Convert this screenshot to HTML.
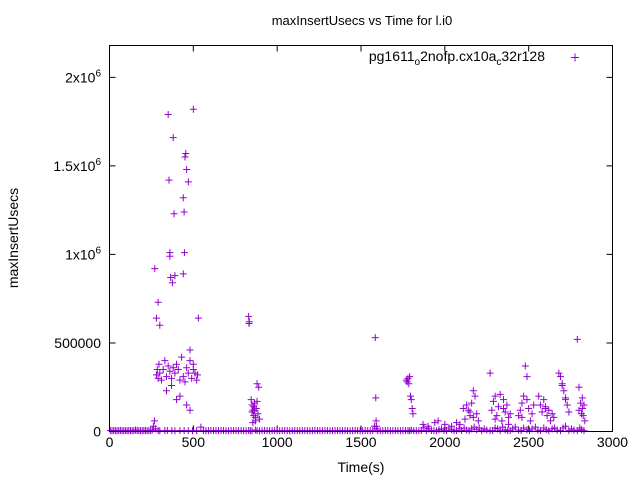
<!DOCTYPE html>
<html><head><meta charset="utf-8"><style>
html,body{margin:0;padding:0;background:#fff;}
svg{display:block;font-family:"Liberation Sans",sans-serif;}
</style></head><body>
<svg id="chart" width="640" height="480" viewBox="0 0 640 480" xmlns="http://www.w3.org/2000/svg">
<rect x="0" y="0" width="640" height="480" fill="#fff"/>
<text x="362" y="25" font-size="13" text-anchor="middle">maxInsertUsecs vs Time for l.i0</text>
<text x="361" y="472" font-size="14" text-anchor="middle">Time(s)</text>
<text transform="translate(18,238) rotate(-90)" font-size="14" text-anchor="middle">maxInsertUsecs</text>
<g id="ticks"></g>
<g id="marks"></g>
<rect x="109.5" y="45.5" width="503" height="386" fill="none" stroke="#000" stroke-width="1"/>
<g>
<text x="545" y="61" font-size="14" text-anchor="end">pg1611<tspan font-size="10" dy="4">o</tspan><tspan dy="-4">2nofp.cx10a</tspan><tspan font-size="10" dy="4">c</tspan><tspan dy="-4">32r128</tspan></text>
<path d="M571,57.5h8M575,53.5v8" stroke="#9400d3" stroke-width="1"/>
</g>
</svg>
<script>
const xTicks = [0, 500, 1000, 1500, 2000, 2500, 3000];
const yTicks = [0, 500000, 1000000, 1500000, 2000000];
const yTickLabels = ["0", "500000", "1x10^6", "1.5x10^6", "2x10^6"];
const baseTimes = [5,15,25,35,45,55,65,75,85,95,105,115,125,135,145,155,165,175,185,195,205,215,225,235,245,255,262,268,275,290,300,330,345,372,390,420,445,470,495,520,545,560,575,590,605,620,635,650,665,680,695,710,725,740,755,770,785,800,815,830,840,850,870,880,895,910,925,940,955,970,985,1000,1015,1030,1045,1060,1075,1090,1105,1120,1135,1150,1165,1180,1195,1210,1225,1240,1255,1270,1285,1300,1315,1330,1345,1360,1375,1390,1405,1420,1435,1450,1465,1480,1495,1510,1525,1540,1555,1570,1580,1590,1600,1615,1630,1645,1660,1675,1690,1705,1720,1735,1750,1765,1780,1790,1800,1815,1830,1845,1860,1875,1890,1905,1920,1935,1950,1965,1980,1995,2010,2025,2040,2055,2070,2085,2100,2115,2130,2145,2160,2175,2190,2205,2220,2235,2250,2270,2285,2300,2315,2330,2345,2360,2375,2390,2405,2420,2440,2455,2470,2490,2505,2520,2540,2555,2570,2590,2605,2620,2640,2655,2670,2690,2705,2720,2740,2755,2770,2790,2805,2815,2830];
const baseValues = [5000,4000,6000,5000,4000,5000,6000,4000,5000,5000,4000,6000,5000,4000,5000,8000,6000,5000,4000,5000,6000,5000,4000,5000,6000,8000,30000,60000,15000,5000,4000,5000,6000,5000,4000,5000,6000,5000,4000,5000,25000,5000,4000,5000,6000,5000,4000,5000,6000,5000,4000,5000,6000,5000,4000,5000,6000,5000,4000,6000,5000,4000,8000,5000,4000,5000,6000,5000,4000,5000,6000,5000,4000,5000,6000,5000,4000,5000,6000,5000,4000,5000,6000,5000,4000,5000,6000,5000,4000,5000,6000,5000,4000,5000,6000,5000,4000,5000,6000,5000,4000,5000,6000,5000,4000,5000,6000,5000,4000,5000,30000,15000,5000,4000,5000,6000,5000,4000,5000,6000,5000,4000,5000,6000,5000,4000,8000,5000,4000,5000,6000,20000,5000,15000,6000,5000,4000,10000,15000,5000,6000,20000,10000,5000,6000,15000,5000,20000,8000,5000,15000,25000,10000,20000,5000,15000,8000,5000,6000,20000,15000,5000,25000,10000,5000,6000,15000,25000,8000,5000,20000,10000,5000,15000,25000,8000,5000,20000,10000,5000,15000,20000,8000,5000,20000,30000,5000,15000,8000,5000,20000,10000,5000];
const c1Times = [270,280,290,300,350,355,360,365,380,385,390,440,445,450,455,460,470,480,500,530,447,375,360,440];
const c1Values = [920000,640000,730000,600000,1790000,1420000,1010000,870000,1660000,1230000,880000,1320000,1240000,1550000,1570000,1480000,1410000,460000,1820000,640000,1010000,840000,990000,890000];
const c1bTimes = [280,285,290,295,300,310,320,330,340,350,360,370,380,390,400,410,420,430,440,450,460,470,480,490,500,510,520,525,400,460,340,420,480,370,500];
const c1bValues = [320000,350000,300000,380000,330000,290000,350000,400000,310000,370000,340000,300000,360000,330000,380000,350000,290000,420000,310000,280000,360000,330000,400000,300000,350000,330000,290000,320000,180000,150000,230000,200000,120000,260000,380000];
const c2Times = [830,832,834,845,850,855,860,865,870,875,880,885,890,895,850,860,870,880,855,865];
const c2Values = [650000,610000,620000,180000,150000,120000,90000,160000,60000,130000,270000,100000,250000,70000,110000,140000,80000,170000,50000,120000];
const c3Times = [1585,1588,1590,1592];
const c3Values = [530000,190000,60000,30000];
const c4Times = [1770,1775,1780,1785,1790,1795,1800,1805,1810];
const c4Values = [290000,280000,300000,270000,310000,200000,180000,130000,100000];
const c5Times = [1870,1900,1940,1960,2000,2040,2070,2090,2110,2120,2130,2140,2150,2160,2170,2180,2190,2200,2150,2170];
const c5Values = [40000,30000,50000,60000,40000,30000,50000,40000,130000,70000,150000,120000,90000,160000,230000,200000,100000,60000,110000,80000];
const c6Times = [2270,2280,2290,2300,2310,2320,2330,2340,2350,2360,2370,2380,2390,2300,2350,2380];
const c6Values = [330000,120000,170000,200000,90000,140000,210000,60000,180000,110000,150000,40000,100000,70000,130000,80000];
const c7Times = [2440,2450,2460,2470,2480,2490,2500,2510,2520,2530,2460,2490];
const c7Values = [90000,120000,160000,200000,370000,310000,130000,60000,100000,150000,80000,180000];
const c8Times = [2560,2570,2580,2590,2600,2610,2620,2630,2640,2650,2600];
const c8Values = [200000,150000,110000,180000,140000,90000,120000,60000,100000,80000,130000];
const c9Times = [2680,2690,2700,2710,2720,2730,2740,2700,2720];
const c9Values = [330000,310000,260000,230000,190000,150000,110000,270000,180000];
const c10Times = [2790,2800,2810,2815,2820,2825,2830,2835,2800,2820];
const c10Values = [520000,250000,160000,100000,130000,90000,150000,60000,120000,190000];
const X0=109.5,X1=612.5,Y0=431.5,Y1=45.5;
function xs(t){return X0+(t-0)/(3000-0)*(X1-X0);}
function ys(v){return Y0-(v-0)/(2180000-0)*(Y0-Y1);}
const NS="http://www.w3.org/2000/svg";
const tg=document.getElementById('ticks');
xTicks.forEach(function(t){
  const x=xs(t);
  const l=document.createElementNS(NS,'path');
  l.setAttribute('d','M'+x+','+Y0+'v-6M'+x+','+Y1+'v6');
  l.setAttribute('stroke','#000');
  
  
  tg.appendChild(l);
  const tx=document.createElementNS(NS,'text');
  tx.setAttribute('x',x);tx.setAttribute('y',447);
  tx.setAttribute('font-size','14');tx.setAttribute('text-anchor','middle');
  tx.textContent=String(t);
  
  
  tg.appendChild(tx);
});
yTicks.forEach(function(v,i){
  const y=ys(v);
  const l=document.createElementNS(NS,'path');
  l.setAttribute('d','M'+X0+','+y+'h6M'+X1+','+y+'h-6');
  l.setAttribute('stroke','#000');
  
  
  tg.appendChild(l);
  const tx=document.createElementNS(NS,'text');
  tx.setAttribute('x',101);tx.setAttribute('y',y+5);
  tx.setAttribute('font-size','14');tx.setAttribute('text-anchor','end');
  const lab=yTickLabels[i];
  if(lab.indexOf('^')>=0){
    const p=lab.split('^');
    tx.textContent=p[0];
    const s=document.createElementNS(NS,'tspan');
    s.setAttribute('font-size','10');s.setAttribute('dy','-6');
    s.textContent=p[1];
    tx.appendChild(s);
  } else tx.textContent=lab;
  
  
  tg.appendChild(tx);
});
const mg=document.getElementById('marks');
function plus(t,v,name){
  const x=xs(t),y=ys(v);
  const p=document.createElementNS(NS,'path');
  p.setAttribute('d','M'+(x-3.5)+','+y+'h7M'+x+','+(y-3.5)+'v7');
  p.setAttribute('stroke','#9400d3');
  p.setAttribute('stroke-width','1');
  p.setAttribute('fill','none');
  
  
  mg.appendChild(p);
}
baseTimes.forEach(function(t,i){plus(t,baseValues[i],'baseline-point');});
[[c1Times,c1Values],[c1bTimes,c1bValues],[c2Times,c2Values],[c3Times,c3Values],[c4Times,c4Values],[c5Times,c5Values],[c6Times,c6Values],[c7Times,c7Values],[c8Times,c8Values],[c9Times,c9Values],[c10Times,c10Values]].forEach(function(c){
  c[0].forEach(function(t,i){plus(t,c[1][i],'data-point');});
});
</script>
</body></html>
